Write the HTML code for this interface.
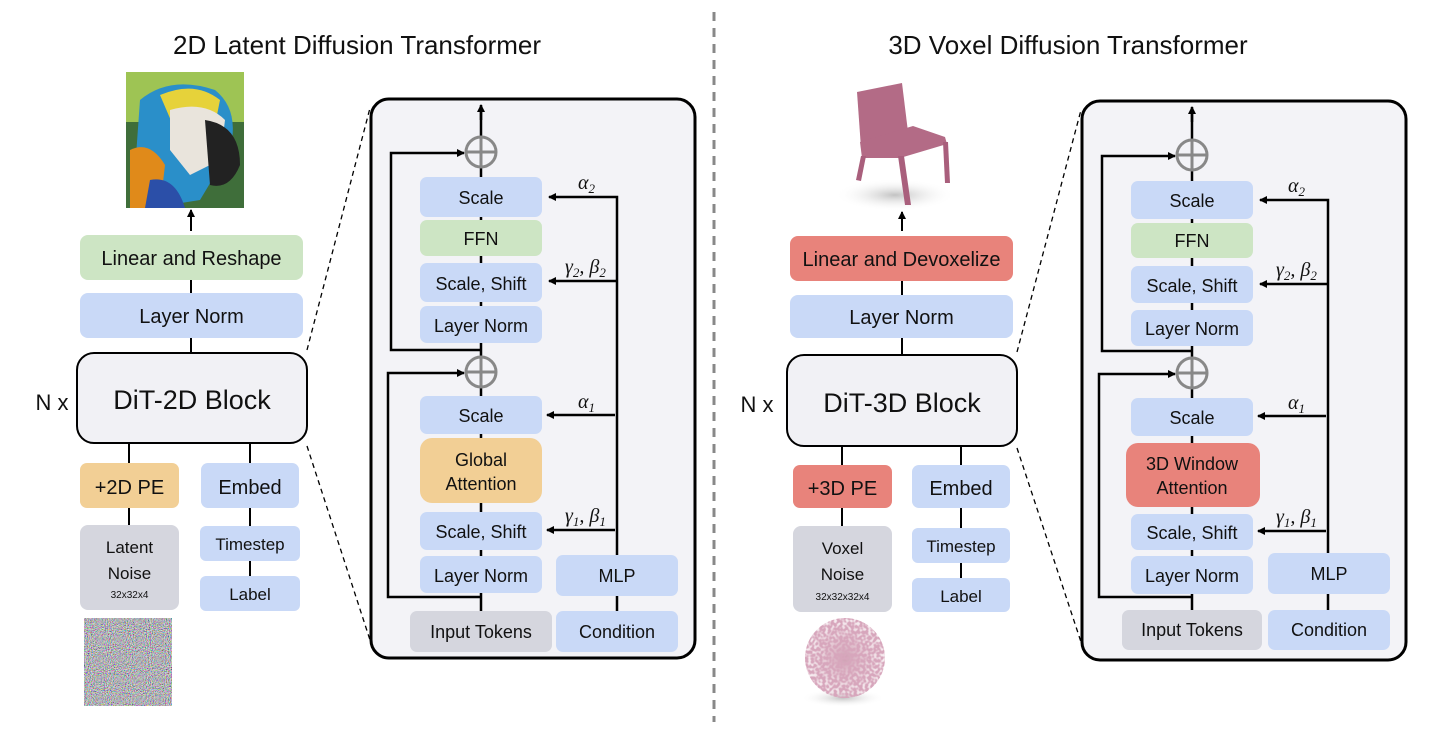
<!DOCTYPE html>
<html><head><meta charset="utf-8"><style>
html,body{margin:0;padding:0;background:#fff}
svg{display:block}
text{font-family:"Liberation Sans",sans-serif;fill:#111}
.m{font-family:"Liberation Serif",serif;font-style:italic}
</style></head><body>
<svg width="1452" height="732" viewBox="0 0 1452 732" xmlns="http://www.w3.org/2000/svg">
<defs>
<marker id="ah" markerWidth="8" markerHeight="8" refX="7" refY="4" orient="auto" markerUnits="userSpaceOnUse"><path d="M0,0 L8,4 L0,8 z" fill="#000"/></marker>
<filter id="nz" x="0" y="0" width="100%" height="100%"><feTurbulence type="fractalNoise" baseFrequency="0.95" numOctaves="1" seed="3"/><feColorMatrix type="matrix" values="1.8 0 0 0 -0.45  0 1.8 0 0 -0.45  0 0 1.8 0 -0.42  0 0 0 0 1"/></filter>
<filter id="spk" x="0" y="0" width="100%" height="100%"><feTurbulence type="fractalNoise" baseFrequency="0.35" numOctaves="1" seed="7"/><feColorMatrix type="matrix" values="0 0 0 0 0.68  0 0 0 0 0.38  0 0 0 0 0.5  0 0 0 4 -1.3"/></filter>
<clipPath id="bc"><circle cx="845" cy="658" r="40"/></clipPath>
<radialGradient id="shadow"><stop offset="0" stop-color="#999" stop-opacity="0.6"/><stop offset="1" stop-color="#fff" stop-opacity="0"/></radialGradient>
<radialGradient id="bfill"><stop offset="0" stop-color="#b97290" stop-opacity="0.7"/><stop offset="1" stop-color="#d7a9bb" stop-opacity="0.2"/></radialGradient>
</defs>

<line x1="714" y1="12" x2="714" y2="722" stroke="#888" stroke-width="3" stroke-dasharray="9,7"/>

<text x="357" y="54" font-size="26" text-anchor="middle">2D Latent Diffusion Transformer</text>
<text x="1068" y="54" font-size="26" text-anchor="middle">3D Voxel Diffusion Transformer</text>

<rect x="126" y="72" width="118" height="136" fill="#3f6e3a"/>
<rect x="126" y="72" width="118" height="50" fill="#9ec454"/>
<path d="M140,100 Q170,75 215,90 Q240,110 230,150 L200,200 L150,208 L135,170 Z" fill="#2a8fc9"/>
<path d="M160,95 Q195,80 220,100 L215,125 L175,130 Z" fill="#e6d23a"/>
<path d="M170,110 Q205,100 225,120 L220,160 L190,175 L170,150 Z" fill="#e9e4dc"/>
<path d="M205,120 Q240,125 240,165 Q230,190 210,185 Z" fill="#222"/>
<path d="M130,150 Q150,140 165,165 L160,208 L130,208 Z" fill="#e08a1a"/>
<path d="M150,180 Q175,175 185,208 L145,208 Z" fill="#2b4fa8"/>
<line x1="191" y1="231" x2="191" y2="210" stroke="#000" stroke-width="2" marker-end="url(#ah)"/>

<rect x="80" y="235" width="223" height="45" rx="8" fill="#cde5c4"/>
<text x="191.5" y="265" font-size="20" text-anchor="middle">Linear and Reshape</text>
<line x1="191" y1="280" x2="191" y2="293" stroke="#000" stroke-width="2"/>
<rect x="80" y="293" width="223" height="45" rx="8" fill="#c9d9f7"/>
<text x="191.5" y="323" font-size="20" text-anchor="middle">Layer Norm</text>
<line x1="191" y1="338" x2="191" y2="353" stroke="#000" stroke-width="2"/>
<rect x="77" y="353" width="230" height="90" rx="17" fill="#f1f1f5" stroke="#000" stroke-width="2"/>
<text x="192" y="409" font-size="27" text-anchor="middle">DiT-2D Block</text>
<text x="52" y="410" font-size="22" text-anchor="middle">N x</text>
<line x1="129" y1="443" x2="129" y2="463" stroke="#000" stroke-width="2"/>
<line x1="250" y1="443" x2="250" y2="463" stroke="#000" stroke-width="2"/>
<rect x="80" y="463" width="99" height="45" rx="7" fill="#f2cf95"/>
<text x="129.5" y="494" font-size="20" text-anchor="middle">+2D PE</text>
<rect x="201" y="463" width="98" height="45" rx="7" fill="#c9d9f7"/>
<text x="250" y="494" font-size="20" text-anchor="middle">Embed</text>
<line x1="129" y1="508" x2="129" y2="525" stroke="#000" stroke-width="2"/>
<line x1="250" y1="508" x2="250" y2="526" stroke="#000" stroke-width="2"/>
<line x1="250" y1="561" x2="250" y2="576" stroke="#000" stroke-width="2"/>
<rect x="80" y="525" width="99" height="85" rx="8" fill="#d5d6de"/>
<text x="129.5" y="553" font-size="17" text-anchor="middle">Latent</text>
<text x="129.5" y="579" font-size="17" text-anchor="middle">Noise</text>
<text x="129.5" y="598" font-size="10" text-anchor="middle">32x32x4</text>
<rect x="200" y="526" width="100" height="35" rx="6" fill="#c9d9f7"/>
<text x="250" y="550" font-size="17" text-anchor="middle">Timestep</text>
<rect x="200" y="576" width="100" height="35" rx="6" fill="#c9d9f7"/>
<text x="250" y="600" font-size="17" text-anchor="middle">Label</text>
<rect x="84" y="618" width="88" height="88" fill="#7a7a7a" filter="url(#nz)"/>

<line x1="307" y1="350" x2="370" y2="108" stroke="#000" stroke-width="1.3" stroke-dasharray="5,4"/>
<line x1="307" y1="446" x2="370" y2="640" stroke="#000" stroke-width="1.3" stroke-dasharray="5,4"/>

<g>
<rect x="371" y="99" width="324" height="559" rx="18" fill="#f3f3f7" stroke="#000" stroke-width="3"/>
<line x1="481" y1="611" x2="481" y2="107" stroke="#000" stroke-width="2.5"/>
<line x1="481" y1="120" x2="481" y2="105" stroke="#000" stroke-width="2.5" marker-end="url(#ah)"/>
<polyline points="481,350 391,350 391,153 464,153" fill="none" stroke="#000" stroke-width="2.5" marker-end="url(#ah)"/>
<polyline points="481,597 388,597 388,373 464,373" fill="none" stroke="#000" stroke-width="2.5" marker-end="url(#ah)"/>
<circle cx="481" cy="152" r="15" fill="#f3f3f7" stroke="#888" stroke-width="3"/>
<line x1="466" y1="152" x2="496" y2="152" stroke="#888" stroke-width="3"/><line x1="481" y1="137" x2="481" y2="167" stroke="#888" stroke-width="3"/>
<circle cx="481" cy="372" r="15" fill="#f3f3f7" stroke="#888" stroke-width="3"/>
<line x1="466" y1="372" x2="496" y2="372" stroke="#888" stroke-width="3"/><line x1="481" y1="357" x2="481" y2="387" stroke="#888" stroke-width="3"/>
<rect x="420" y="177" width="122" height="40" rx="7" fill="#c9d9f7"/><text x="481" y="204" font-size="18" text-anchor="middle">Scale</text>
<rect x="420" y="220" width="122" height="36" rx="7" fill="#cde5c4"/><text x="481" y="245" font-size="18" text-anchor="middle">FFN</text>
<rect x="420" y="263" width="122" height="39" rx="7" fill="#c9d9f7"/><text x="481" y="290" font-size="18" text-anchor="middle">Scale, Shift</text>
<rect x="420" y="306" width="122" height="37" rx="7" fill="#c9d9f7"/><text x="481" y="332" font-size="18" text-anchor="middle">Layer Norm</text>
<rect x="420" y="396" width="122" height="38" rx="7" fill="#c9d9f7"/><text x="481" y="422" font-size="18" text-anchor="middle">Scale</text>
<rect x="420" y="438" width="122" height="65" rx="12" fill="#f2cf95"/><text x="481" y="466" font-size="18" text-anchor="middle">Global</text><text x="481" y="490" font-size="18" text-anchor="middle">Attention</text>
<rect x="420" y="512" width="122" height="38" rx="7" fill="#c9d9f7"/><text x="481" y="538" font-size="18" text-anchor="middle">Scale, Shift</text>
<rect x="420" y="556" width="122" height="37" rx="7" fill="#c9d9f7"/><text x="481" y="582" font-size="18" text-anchor="middle">Layer Norm</text>
<rect x="410" y="611" width="142" height="41" rx="7" fill="#d5d6de"/><text x="481" y="638" font-size="18" text-anchor="middle">Input Tokens</text>
<rect x="556" y="555" width="122" height="41" rx="7" fill="#c9d9f7"/><text x="617" y="582" font-size="18" text-anchor="middle">MLP</text>
<rect x="556" y="611" width="122" height="41" rx="7" fill="#c9d9f7"/><text x="617" y="638" font-size="18" text-anchor="middle">Condition</text>
<line x1="617" y1="611" x2="617" y2="596" stroke="#000" stroke-width="2.5"/>
<polyline points="617,555 617,197 549,197" fill="none" stroke="#000" stroke-width="2.5" marker-end="url(#ah)"/>
<line x1="617" y1="281" x2="549" y2="281" stroke="#000" stroke-width="2.5" marker-end="url(#ah)"/>
<line x1="615" y1="415" x2="547" y2="415" stroke="#000" stroke-width="2.5" marker-end="url(#ah)"/>
<line x1="615" y1="530" x2="547" y2="530" stroke="#000" stroke-width="2.5" marker-end="url(#ah)"/>
<text class="m" x="578" y="189" font-size="20">α<tspan font-size="13" dy="4">2</tspan></text>
<text class="m" x="565" y="273" font-size="20">γ<tspan font-size="13" dy="4">2</tspan><tspan dy="-4">, β</tspan><tspan font-size="13" dy="4">2</tspan></text>
<text class="m" x="578" y="408" font-size="20">α<tspan font-size="13" dy="4">1</tspan></text>
<text class="m" x="565" y="522" font-size="20">γ<tspan font-size="13" dy="4">1</tspan><tspan dy="-4">, β</tspan><tspan font-size="13" dy="4">1</tspan></text>
</g>

<ellipse cx="895" cy="195" rx="60" ry="16" fill="url(#shadow)"/>
<path d="M857,92 L902,83 L909,140 L861,148 Z" fill="#b36b86"/>
<path d="M860,142 L913,126 L945,137 L947,144 L900,158 L862,158 Z" fill="#b36b86"/>
<path d="M861,156 L866,156 L861,181 L856,180 Z" fill="#a95f7c"/>
<path d="M898,156 L904,156 L911,205 L905,205 Z" fill="#a95f7c"/>
<path d="M943,142 L948,142 L950,183 L945,183 Z" fill="#a95f7c"/>
<line x1="902" y1="231" x2="902" y2="212" stroke="#000" stroke-width="2" marker-end="url(#ah)"/>

<rect x="790" y="236" width="223" height="45" rx="8" fill="#e8837b"/>
<text x="901.5" y="266" font-size="20" text-anchor="middle">Linear and Devoxelize</text>
<line x1="902" y1="281" x2="902" y2="295" stroke="#000" stroke-width="2"/>
<rect x="790" y="295" width="223" height="43" rx="8" fill="#c9d9f7"/>
<text x="901.5" y="324" font-size="20" text-anchor="middle">Layer Norm</text>
<line x1="902" y1="338" x2="902" y2="355" stroke="#000" stroke-width="2"/>
<rect x="787" y="355" width="230" height="91" rx="17" fill="#f1f1f5" stroke="#000" stroke-width="2"/>
<text x="902" y="412" font-size="27" text-anchor="middle">DiT-3D Block</text>
<text x="757" y="412" font-size="22" text-anchor="middle">N x</text>
<line x1="842" y1="446" x2="842" y2="465" stroke="#000" stroke-width="2"/>
<line x1="961" y1="446" x2="961" y2="465" stroke="#000" stroke-width="2"/>
<rect x="793" y="465" width="99" height="43" rx="7" fill="#e8837b"/>
<text x="842.5" y="495" font-size="20" text-anchor="middle">+3D PE</text>
<rect x="912" y="465" width="98" height="43" rx="7" fill="#c9d9f7"/>
<text x="961" y="495" font-size="20" text-anchor="middle">Embed</text>
<line x1="842" y1="508" x2="842" y2="526" stroke="#000" stroke-width="2"/>
<line x1="961" y1="508" x2="961" y2="528" stroke="#000" stroke-width="2"/>
<line x1="961" y1="563" x2="961" y2="578" stroke="#000" stroke-width="2"/>
<rect x="793" y="526" width="99" height="86" rx="8" fill="#d5d6de"/>
<text x="842.5" y="554" font-size="17" text-anchor="middle">Voxel</text>
<text x="842.5" y="580" font-size="17" text-anchor="middle">Noise</text>
<text x="842.5" y="600" font-size="10" text-anchor="middle">32x32x32x4</text>
<rect x="912" y="528" width="98" height="35" rx="6" fill="#c9d9f7"/>
<text x="961" y="552" font-size="17" text-anchor="middle">Timestep</text>
<rect x="912" y="578" width="98" height="34" rx="6" fill="#c9d9f7"/>
<text x="961" y="602" font-size="17" text-anchor="middle">Label</text>
<ellipse cx="843" cy="698" rx="42" ry="9" fill="url(#shadow)"/>
<g clip-path="url(#bc)">
<circle cx="845" cy="658" r="40" fill="url(#bfill)"/>
<rect x="800" y="615" width="90" height="90" fill="#fff" filter="url(#spk)"/>
</g>

<line x1="1017" y1="352" x2="1081" y2="110" stroke="#000" stroke-width="1.3" stroke-dasharray="5,4"/>
<line x1="1017" y1="448" x2="1081" y2="642" stroke="#000" stroke-width="1.3" stroke-dasharray="5,4"/>

<g>
<rect x="1082" y="101" width="324" height="559" rx="18" fill="#f3f3f7" stroke="#000" stroke-width="3"/>
<line x1="1192" y1="610" x2="1192" y2="109" stroke="#000" stroke-width="2.5"/>
<line x1="1192" y1="122" x2="1192" y2="107" stroke="#000" stroke-width="2.5" marker-end="url(#ah)"/>
<polyline points="1192,351 1102,351 1102,156 1175,156" fill="none" stroke="#000" stroke-width="2.5" marker-end="url(#ah)"/>
<polyline points="1192,597 1099,597 1099,374 1175,374" fill="none" stroke="#000" stroke-width="2.5" marker-end="url(#ah)"/>
<circle cx="1192" cy="155" r="15" fill="#f3f3f7" stroke="#888" stroke-width="3"/>
<line x1="1177" y1="155" x2="1207" y2="155" stroke="#888" stroke-width="3"/><line x1="1192" y1="140" x2="1192" y2="170" stroke="#888" stroke-width="3"/>
<circle cx="1192" cy="373" r="15" fill="#f3f3f7" stroke="#888" stroke-width="3"/>
<line x1="1177" y1="373" x2="1207" y2="373" stroke="#888" stroke-width="3"/><line x1="1192" y1="358" x2="1192" y2="388" stroke="#888" stroke-width="3"/>
<rect x="1131" y="181" width="122" height="38" rx="7" fill="#c9d9f7"/><text x="1192" y="207" font-size="18" text-anchor="middle">Scale</text>
<rect x="1131" y="223" width="122" height="35" rx="7" fill="#cde5c4"/><text x="1192" y="247" font-size="18" text-anchor="middle">FFN</text>
<rect x="1131" y="266" width="122" height="37" rx="7" fill="#c9d9f7"/><text x="1192" y="292" font-size="18" text-anchor="middle">Scale, Shift</text>
<rect x="1131" y="310" width="122" height="36" rx="7" fill="#c9d9f7"/><text x="1192" y="335" font-size="18" text-anchor="middle">Layer Norm</text>
<rect x="1131" y="398" width="122" height="38" rx="7" fill="#c9d9f7"/><text x="1192" y="424" font-size="18" text-anchor="middle">Scale</text>
<rect x="1126" y="443" width="134" height="64" rx="12" fill="#e8837b"/><text x="1192" y="470" font-size="18" text-anchor="middle">3D Window</text><text x="1192" y="494" font-size="18" text-anchor="middle">Attention</text>
<rect x="1131" y="514" width="122" height="36" rx="7" fill="#c9d9f7"/><text x="1192" y="539" font-size="18" text-anchor="middle">Scale, Shift</text>
<rect x="1131" y="556" width="122" height="38" rx="7" fill="#c9d9f7"/><text x="1192" y="582" font-size="18" text-anchor="middle">Layer Norm</text>
<rect x="1122" y="610" width="140" height="40" rx="7" fill="#d5d6de"/><text x="1192" y="636" font-size="18" text-anchor="middle">Input Tokens</text>
<rect x="1268" y="553" width="122" height="41" rx="7" fill="#c9d9f7"/><text x="1329" y="580" font-size="18" text-anchor="middle">MLP</text>
<rect x="1268" y="610" width="122" height="40" rx="7" fill="#c9d9f7"/><text x="1329" y="636" font-size="18" text-anchor="middle">Condition</text>
<line x1="1328" y1="610" x2="1328" y2="594" stroke="#000" stroke-width="2.5"/>
<polyline points="1328,553 1328,200 1260,200" fill="none" stroke="#000" stroke-width="2.5" marker-end="url(#ah)"/>
<line x1="1328" y1="284" x2="1260" y2="284" stroke="#000" stroke-width="2.5" marker-end="url(#ah)"/>
<line x1="1326" y1="416" x2="1258" y2="416" stroke="#000" stroke-width="2.5" marker-end="url(#ah)"/>
<line x1="1326" y1="531" x2="1258" y2="531" stroke="#000" stroke-width="2.5" marker-end="url(#ah)"/>
<text class="m" x="1288" y="192" font-size="20">α<tspan font-size="13" dy="4">2</tspan></text>
<text class="m" x="1276" y="276" font-size="20">γ<tspan font-size="13" dy="4">2</tspan><tspan dy="-4">, β</tspan><tspan font-size="13" dy="4">2</tspan></text>
<text class="m" x="1288" y="409" font-size="20">α<tspan font-size="13" dy="4">1</tspan></text>
<text class="m" x="1276" y="523" font-size="20">γ<tspan font-size="13" dy="4">1</tspan><tspan dy="-4">, β</tspan><tspan font-size="13" dy="4">1</tspan></text>
</g>
</svg>
</body></html>
